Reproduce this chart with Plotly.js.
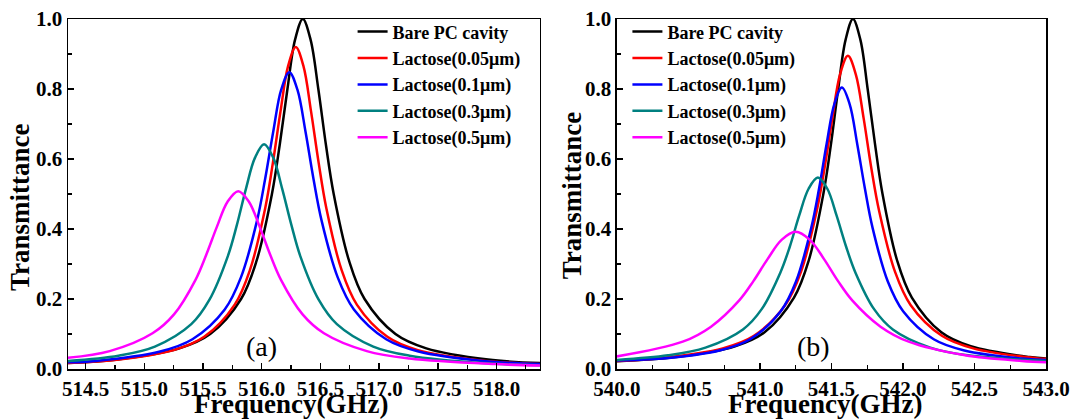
<!DOCTYPE html>
<html>
<head>
<meta charset="utf-8">
<script src="https://cdn.plot.ly/plotly-3.0.1.min.js"></script>
<style>html,body{margin:0;padding:0;background:#fff;}#chart{width:1071px;height:420px;}</style>
</head>
<body>
<div id="chart"></div>
<script>
// ---- Series meta ----
const seriesNames = ['Bare PC cavity', 'Lactose(0.05μm)', 'Lactose(0.1μm)', 'Lactose(0.3μm)', 'Lactose(0.5μm)'];
const seriesColors = ['#000000', '#ff0000', '#0000ff', '#008080', '#ff00ff'];
const panelLabels = ['(a)', '(b)'];
const xTitle = 'Frequency(GHz)';
const yTitle = 'Transmittance';

// ---- Panel (a): 514–518 GHz ----
const aBareX = [514.35, 514.772, 515.298, 515.561, 515.824, 515.955, 516.087, 516.153, 516.219, 516.284, 516.35, 516.416, 516.482, 516.547, 516.613, 516.745, 516.876, 517.139, 517.402, 517.928, 518.37];
const aBareY = [0.017, 0.027, 0.059, 0.100, 0.200, 0.308, 0.500, 0.640, 0.800, 0.941, 1.000, 0.941, 0.800, 0.640, 0.500, 0.308, 0.200, 0.100, 0.059, 0.027, 0.017];

const aL005X = [514.35, 514.73, 515.25, 515.51, 515.77, 515.90, 516.03, 516.095, 516.16, 516.225, 516.29, 516.355, 516.42, 516.485, 516.55, 516.68, 516.81, 517.07, 517.33, 517.85, 518.37];
const aL005Y = [0.017, 0.025, 0.054, 0.092, 0.184, 0.283, 0.460, 0.589, 0.736, 0.866, 0.920, 0.866, 0.736, 0.589, 0.460, 0.283, 0.184, 0.092, 0.054, 0.025, 0.014];

const aL01X = [514.35, 514.585, 515.135, 515.41, 515.685, 515.822, 515.96, 516.029, 516.098, 516.166, 516.235, 516.304, 516.373, 516.441, 516.51, 516.648, 516.785, 517.06, 517.335, 517.885, 518.37];
const aL01Y = [0.019, 0.023, 0.050, 0.085, 0.170, 0.261, 0.424, 0.543, 0.678, 0.798, 0.848, 0.798, 0.678, 0.543, 0.424, 0.261, 0.170, 0.085, 0.050, 0.023, 0.014];

const aL03X = [514.35, 514.78, 515.09, 515.40, 515.555, 515.71, 515.788, 515.865, 515.943, 516.02, 516.098, 516.175, 516.253, 516.33, 516.485, 516.64, 516.95, 517.26, 517.88, 518.37];
const aL03Y = [0.023, 0.038, 0.064, 0.128, 0.198, 0.321, 0.411, 0.514, 0.604, 0.642, 0.604, 0.514, 0.411, 0.321, 0.198, 0.128, 0.064, 0.038, 0.017, 0.011];

const aL05X = [514.35, 514.705, 515.07, 515.253, 515.435, 515.526, 515.618, 515.709, 515.80, 515.891, 515.983, 516.074, 516.165, 516.348, 516.53, 516.895, 517.26, 517.99, 518.37];
const aL05Y = [0.032, 0.051, 0.102, 0.156, 0.254, 0.325, 0.406, 0.478, 0.508, 0.478, 0.406, 0.325, 0.254, 0.156, 0.102, 0.051, 0.030, 0.014, 0.010];

// ---- Panel (b): 540–543 GHz ----
const bBareX = [540.0, 540.414, 540.826, 541.032, 541.238, 541.341, 541.444, 541.496, 541.547, 541.599, 541.65, 541.702, 541.753, 541.805, 541.856, 541.959, 542.062, 542.268, 542.474, 542.886, 543.0];
const bBareY = [0.022, 0.034, 0.065, 0.105, 0.204, 0.310, 0.502, 0.641, 0.800, 0.941, 1.000, 0.941, 0.800, 0.641, 0.502, 0.310, 0.204, 0.105, 0.065, 0.034, 0.030];

const bL005X = [540.0, 540.301, 540.739, 540.958, 541.177, 541.287, 541.396, 541.451, 541.506, 541.560, 541.615, 541.670, 541.725, 541.779, 541.834, 541.944, 542.053, 542.272, 542.491, 542.929, 543.0];
const bL005Y = [0.023, 0.031, 0.059, 0.095, 0.183, 0.278, 0.450, 0.573, 0.716, 0.842, 0.895, 0.842, 0.716, 0.573, 0.450, 0.278, 0.183, 0.095, 0.059, 0.031, 0.029];

const bL01X = [540.0, 540.289, 540.717, 540.931, 541.145, 541.252, 541.359, 541.413, 541.466, 541.520, 541.573, 541.627, 541.680, 541.734, 541.787, 541.894, 542.001, 542.215, 542.429, 542.857, 543.0];
const bL01Y = [0.024, 0.029, 0.053, 0.085, 0.165, 0.250, 0.404, 0.515, 0.643, 0.757, 0.804, 0.757, 0.643, 0.515, 0.404, 0.250, 0.165, 0.085, 0.053, 0.029, 0.026];

const bL03X = [540.0, 540.357, 540.619, 540.881, 541.012, 541.143, 541.209, 541.274, 541.340, 541.405, 541.471, 541.536, 541.602, 541.667, 541.798, 541.929, 542.191, 542.453, 543.0];
const bL03Y = [0.026, 0.039, 0.061, 0.113, 0.171, 0.276, 0.350, 0.438, 0.515, 0.547, 0.515, 0.438, 0.350, 0.276, 0.171, 0.113, 0.061, 0.039, 0.023];

const bL05X = [540.0, 540.46, 540.658, 540.855, 540.954, 541.053, 541.151, 541.25, 541.349, 541.448, 541.546, 541.645, 541.843, 542.04, 542.435, 542.83, 543.0];
const bL05Y = [0.036, 0.078, 0.121, 0.196, 0.251, 0.314, 0.369, 0.392, 0.369, 0.314, 0.251, 0.196, 0.121, 0.078, 0.039, 0.023, 0.019];

const panelA = [[aBareX, aBareY], [aL005X, aL005Y], [aL01X, aL01Y], [aL03X, aL03Y], [aL05X, aL05Y]];
const panelB = [[bBareX, bBareY], [bL005X, bL005Y], [bL01X, bL01Y], [bL03X, bL03Y], [bL05X, bL05Y]];

const FONT = 'Liberation Serif';
const traces = [];
panelA.forEach((s, i) => traces.push({
  type: 'scatter', mode: 'lines', x: s[0], y: s[1], name: seriesNames[i],
  line: {color: seriesColors[i], width: 2.5, shape: 'spline', smoothing: 1},
  xaxis: 'x', yaxis: 'y', legend: 'legend'
}));
panelB.forEach((s, i) => traces.push({
  type: 'scatter', mode: 'lines', x: s[0], y: s[1], name: seriesNames[i],
  line: {color: seriesColors[i], width: 2.5, shape: 'spline', smoothing: 1},
  xaxis: 'x2', yaxis: 'y2', legend: 'legend2'
}));

function xAxis(domain, range, anchor, tick0) {
  return {
    domain: domain, range: range, anchor: anchor,
    tick0: tick0, dtick: 0.5, tickformat: '.1f',
    ticks: 'inside', ticklen: 6, tickwidth: 1.5, tickcolor: '#000',
    minor: {dtick: 0.25, ticks: 'inside', ticklen: 4, tickwidth: 1.2, tickcolor: '#000', showgrid: false},
    showline: true, linecolor: '#000', linewidth: 1.5, mirror: true,
    showgrid: false, zeroline: false,
    tickfont: {family: FONT, size: 21, color: '#000', weight: 'bold'}
  };
}
function yAxis(anchor) {
  return {
    domain: [0, 1], range: [0, 1.0], anchor: anchor,
    dtick: 0.2, tickformat: '.1f',
    ticks: 'inside', ticklen: 6, tickwidth: 1.5, tickcolor: '#000',
    minor: {dtick: 0.1, ticks: 'inside', ticklen: 4, tickwidth: 1.2, tickcolor: '#000', showgrid: false},
    showline: true, linecolor: '#000', linewidth: 1.5, mirror: true,
    showgrid: false, zeroline: false,
    tickfont: {family: FONT, size: 21, color: '#000', weight: 'bold'}
  };
}

const legendBase = {
  bgcolor: 'rgba(0,0,0,0)', borderwidth: 0, yanchor: 'top', xanchor: 'left',
  font: {family: FONT, size: 18, color: '#000', weight: 'bold'}
};

const titleFont = {family: FONT, size: 27, color: '#000', weight: 'bold'};
const layout = {
  width: 1071, height: 420,
  margin: {l: 68, r: 25, t: 19, b: 51},
  paper_bgcolor: '#fff', plot_bgcolor: '#fff',
  showlegend: true,
  xaxis: xAxis([0, 0.4826], [514.35, 518.37], 'y', 514.5),
  yaxis: yAxis('x'),
  xaxis2: xAxis([0.5613, 1.0], [540, 543], 'y2', 540),
  yaxis2: yAxis('x2'),
  legend: Object.assign({x: 0.291, y: 1.016}, legendBase),
  legend2: Object.assign({x: 0.572, y: 1.016}, legendBase),
  annotations: [
    {text: panelLabels[0], xref: 'x domain', yref: 'y domain', x: 0.411, y: 0.063, xanchor: 'center', yanchor: 'middle', showarrow: false,
     font: {family: FONT, size: 28, color: '#000'}},
    {text: panelLabels[1], xref: 'x2 domain', yref: 'y2 domain', x: 0.457, y: 0.063, xanchor: 'center', yanchor: 'middle', showarrow: false,
     font: {family: FONT, size: 28, color: '#000'}},
    {text: xTitle, xref: 'paper', yref: 'paper', x: 0.228, y: -0.1486, xanchor: 'center', yanchor: 'bottom', showarrow: false, font: titleFont},
    {text: xTitle, xref: 'paper', yref: 'paper', x: 0.774, y: -0.1486, xanchor: 'center', yanchor: 'bottom', showarrow: false, font: titleFont},
    {text: yTitle, xref: 'paper', yref: 'paper', x: -0.049, y: 0.46, xanchor: 'center', yanchor: 'middle', textangle: -90, showarrow: false, font: titleFont},
    {text: yTitle, xref: 'paper', yref: 'paper', x: 0.5155, y: 0.494, xanchor: 'center', yanchor: 'middle', textangle: -90, showarrow: false, font: titleFont}
  ]
};

Plotly.newPlot('chart', traces, layout, {displayModeBar: false, staticPlot: true});
</script>
</body>
</html>
